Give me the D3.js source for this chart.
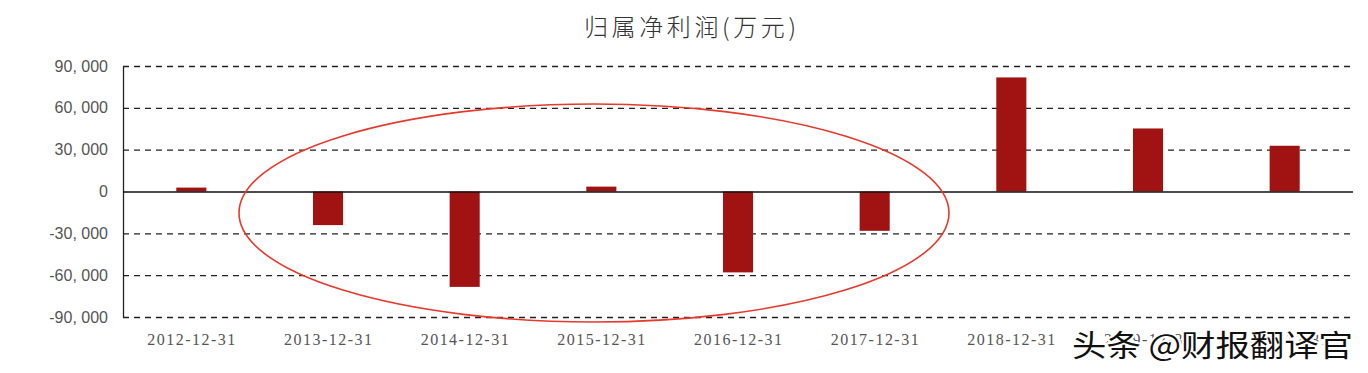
<!DOCTYPE html>
<html><head><meta charset="utf-8">
<script src="https://cdn.jsdelivr.net/npm/d3@7/dist/d3.min.js"></script>
<style>body{margin:0;background:#fff}svg{display:block}</style>
</head><body>
<svg id="c" width="1368" height="373"></svg>
<script>
const categories = ["2012-12-31","2013-12-31","2014-12-31","2015-12-31","2016-12-31","2017-12-31","2018-12-31","2019-12-31","2020-12-31"];
const values = [2800, -24100, -68400, 3500, -58000, -28200, 81800, 45200, 32800];
const yTicks = [-90000, -60000, -30000, 0, 30000, 60000, 90000];
const title = "归属净利润(万元)";
const watermark = "头条 @财报翻译官";

const svg = d3.select("#c");
const mLeft = 123, mRight = 1353, mTop = 66, mBottom = 317;
const x = d3.scaleBand().domain(categories).range([mLeft, mRight]).padding(0);
const barW = x.bandwidth() * 0.22;
const y = d3.scaleLinear().domain([-90000, 90000]).range([mBottom, mTop]);

svg.append("text").attr("x", 690).attr("y", 36).attr("text-anchor", "middle")
  .attr("font-family", "'Noto Sans CJK SC'").attr("font-weight", 300).attr("font-size", 24).attr("fill", "#333")
  .attr("textLength", 212).attr("lengthAdjust", "spacing").text(title);

// grid
svg.append("g").selectAll("line").data(yTicks.filter(d => d !== 0)).join("line")
  .attr("x1", mLeft).attr("x2", mRight).attr("y1", d => y(d) + 0.5).attr("y2", d => y(d) + 0.5)
  .attr("stroke", "#222").attr("stroke-width", 1.3).attr("stroke-dasharray", "6,5");

// y axis
const yAxis = d3.axisLeft(y).tickValues(yTicks).tickSize(0).tickPadding(15)
  .tickFormat(d => d3.format(",")(d).replace(/,/g, ", ").replace("−", "-"));
const ya = svg.append("g").attr("transform", `translate(${mLeft},0)`).call(yAxis);
ya.select(".domain").attr("stroke", "#222").attr("stroke-width", 1.3);
ya.selectAll("text").attr("font-family", "'Liberation Sans', 'DejaVu Sans'").attr("font-size", 16).attr("fill", "#555");

// bars
svg.append("g").selectAll("rect").data(values).join("rect")
  .attr("x", (d, i) => x(categories[i]) + (x.bandwidth() - barW) / 2)
  .attr("width", barW)
  .attr("y", d => y(Math.max(0, d)))
  .attr("height", d => Math.abs(y(d) - y(0)))
  .attr("fill", "#a11212");

// zero line
svg.append("line").attr("x1", mLeft).attr("x2", mRight).attr("y1", y(0) + 0.5).attr("y2", y(0) + 0.5)
  .attr("stroke", "#111").attr("stroke-width", 1.3);

// x axis labels
const xAxis = d3.axisBottom(x).tickSize(0).tickPadding(14);
const xa = svg.append("g").attr("transform", `translate(0,${mBottom})`).call(xAxis);
xa.select(".domain").remove();
xa.selectAll("text").attr("font-family", "'Liberation Serif', 'DejaVu Serif'").attr("font-size", 16)
  .attr("fill", "#555").attr("dy", null).attr("y", 28)
  .attr("textLength", 88).attr("lengthAdjust", "spacing");

// ellipse annotation
svg.append("ellipse").attr("cx", 594).attr("cy", 213).attr("rx", 355).attr("ry", 109)
  .attr("fill", "none").attr("stroke", "#e53a2c").attr("stroke-width", 1.6);

// watermark
svg.append("text").attr("x", 1072).attr("y", 356)
  .attr("font-family", "'Noto Sans CJK SC'").attr("font-size", 30).attr("fill", "#111")
  .attr("stroke", "#fff").attr("stroke-width", 4).attr("paint-order", "stroke")
  .attr("textLength", 281).attr("lengthAdjust", "spacingAndGlyphs").text(watermark);
</script>
</body></html>
